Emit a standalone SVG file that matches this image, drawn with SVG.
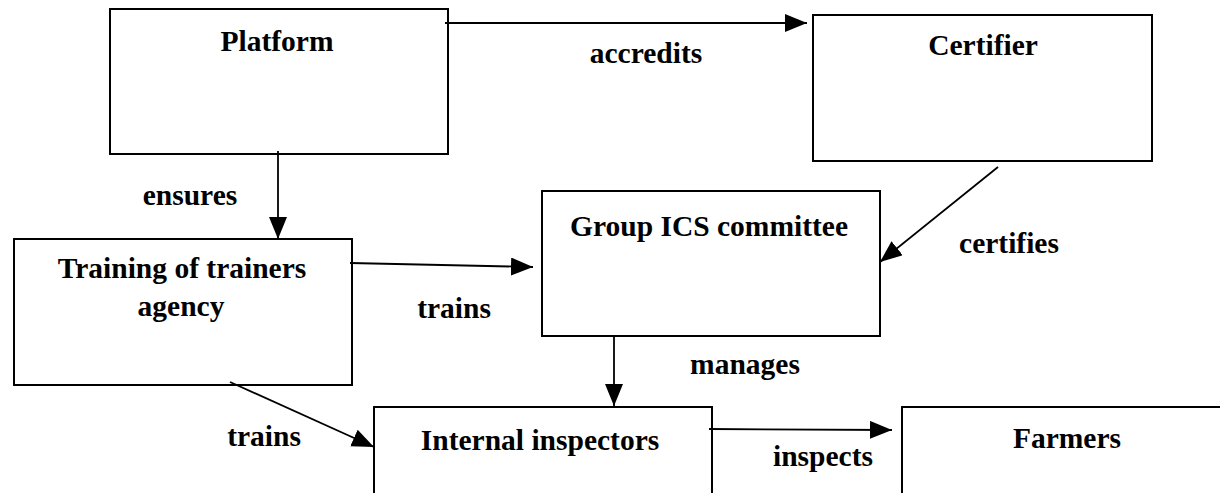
<svg xmlns="http://www.w3.org/2000/svg" width="1220" height="493" viewBox="0 0 1220 493">
<style>
.box{fill:#fff;stroke:#000;stroke-width:2}
.t{font-family:"Liberation Serif","Times New Roman",serif;font-weight:bold;font-size:29.5px;fill:#000;text-anchor:middle}
.c{stroke:#000;stroke-width:1.8;fill:none;marker-end:url(#ah)}
</style>
<defs>
<marker id="ah" markerUnits="userSpaceOnUse" markerWidth="24" markerHeight="20" refX="22" refY="9" orient="auto">
<path d="M0,0 L22,9 L0,18 Z" fill="#000"/>
</marker>
</defs>
<rect width="1220" height="493" fill="#fff"/>
<g id="platform"><rect class="box" x="110" y="9" width="338" height="145"/><text class="t" x="277" y="51">Platform</text></g>
<g id="certifier"><rect class="box" x="813" y="15" width="339" height="146"/><text class="t" x="983" y="55">Certifier</text></g>
<g id="training"><rect class="box" x="14" y="239" width="338" height="146"/><text class="t" x="182" y="278">Training of trainers</text><text class="t" x="181" y="316">agency</text></g>
<g id="group"><rect class="box" x="542" y="191" width="338" height="145"/><text class="t" x="709" y="236">Group ICS committee</text></g>
<g id="internal"><rect class="box" x="374" y="407" width="338" height="120"/><text class="t" x="540" y="450">Internal inspectors</text></g>
<g id="farmers"><rect class="box" x="902" y="407" width="400" height="120"/><text class="t" x="1067" y="448">Farmers</text></g>
<g id="connectors">
<line class="c" x1="445" y1="23" x2="807" y2="23"/>
<line class="c" x1="278" y1="151" x2="278" y2="239"/>
<line class="c" x1="350" y1="263" x2="533" y2="267"/>
<line class="c" x1="998" y1="167" x2="880" y2="262"/>
<line class="c" x1="614" y1="336" x2="614" y2="406"/>
<line class="c" x1="230" y1="382" x2="374" y2="447"/>
<line class="c" x1="709" y1="429" x2="892" y2="430"/>
</g>
<g id="labels">
<text class="t" x="646" y="63">accredits</text>
<text class="t" x="190" y="205">ensures</text>
<text class="t" x="1009" y="253">certifies</text>
<text class="t" x="454" y="318">trains</text>
<text class="t" x="745" y="374">manages</text>
<text class="t" x="264" y="446">trains</text>
<text class="t" x="823" y="466">inspects</text>
</g>
</svg>
